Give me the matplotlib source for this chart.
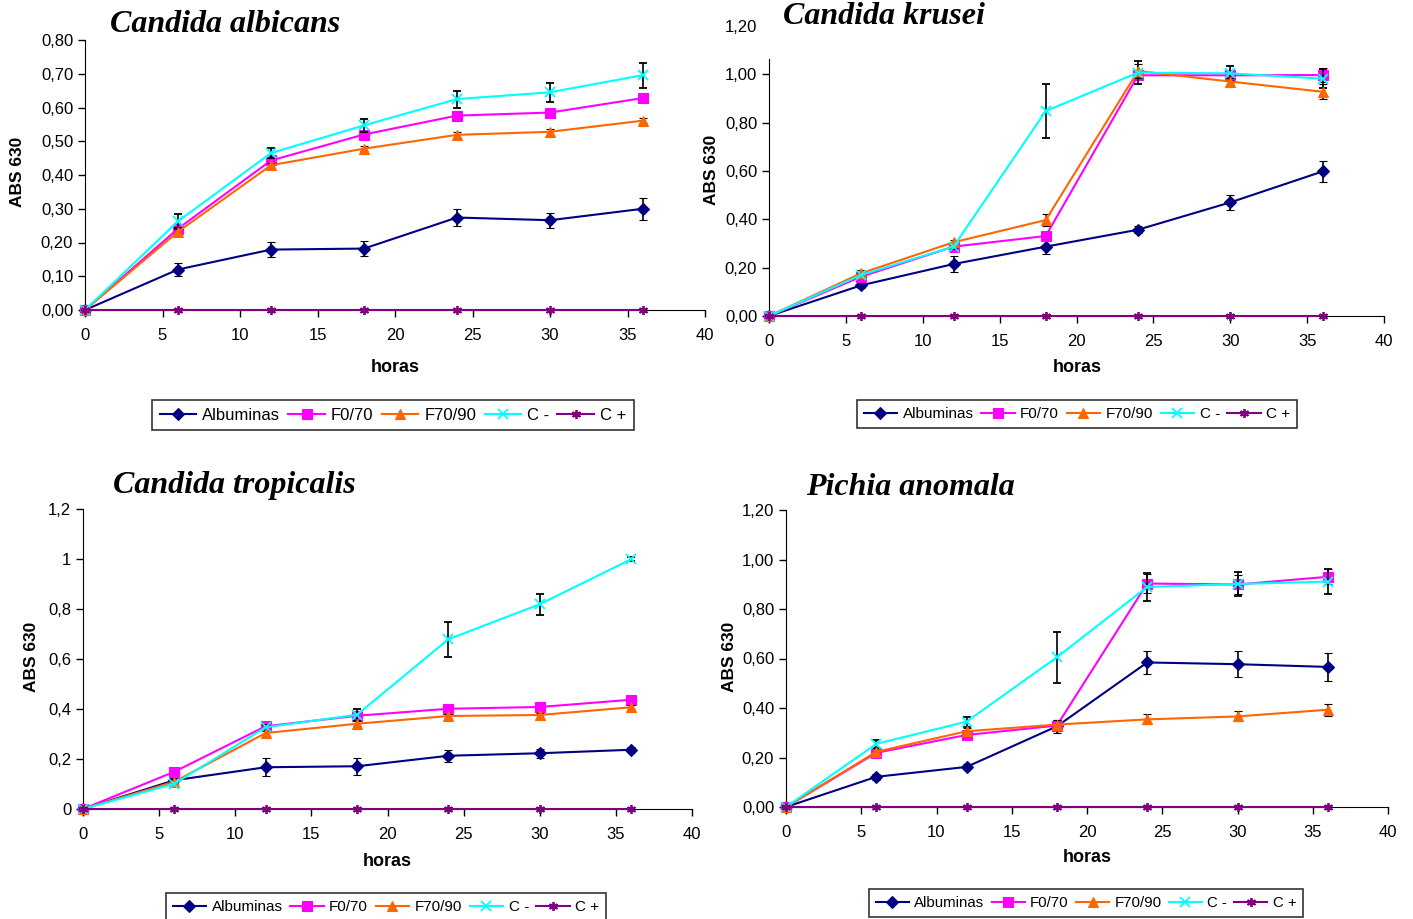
import matplotlib
matplotlib.use("Agg")
import matplotlib.pyplot as plt
from matplotlib.lines import Line2D

plt.rcParams['font.family'] = ['Liberation Sans Narrow', 'Liberation Sans', 'DejaVu Sans']

W, H = 1413, 919

horas = [0, 6, 12, 18, 24, 30, 36]
series_names = ["Albuminas", "F0/70", "F70/90", "C -", "C +"]
colors = ["#000080", "#FF00FF", "#FF6600", "#00FFFF", "#800080"]
markers = ["D", "s", "^", "x", (6, 2, 0)]

# ---------- Candida albicans ----------
alb_vals = [
    [0, 0.120, 0.179, 0.182, 0.274, 0.266, 0.300],
    [0, 0.241, 0.443, 0.520, 0.576, 0.585, 0.628],
    [0, 0.232, 0.429, 0.478, 0.519, 0.528, 0.561],
    [0, 0.263, 0.465, 0.547, 0.625, 0.645, 0.696],
    [0, 0, 0, 0, 0, 0, 0],
]
alb_err = [
    [0, 0.020, 0.023, 0.023, 0.026, 0.022, 0.033],
    [0, 0.010, 0.010, 0.010, 0.015, 0.010, 0.010],
    [0, 0.008, 0.008, 0.008, 0.008, 0.008, 0.008],
    [0, 0.020, 0.015, 0.020, 0.025, 0.028, 0.037],
    [0, 0, 0, 0, 0, 0, 0],
]
alb_yticks = [0, 0.1, 0.2, 0.3, 0.4, 0.5, 0.6, 0.7, 0.8]
alb_ylabels = ["0,00", "0,10", "0,20", "0,30", "0,40", "0,50", "0,60", "0,70", "0,80"]

# ---------- Candida krusei ----------
kru_vals = [
    [0, 0.127, 0.215, 0.287, 0.357, 0.470, 0.598],
    [0, 0.163, 0.287, 0.331, 0.996, 0.996, 0.997],
    [0, 0.177, 0.305, 0.397, 1.014, 0.970, 0.928],
    [0, 0.170, 0.287, 0.848, 1.007, 1.004, 0.982],
    [0, 0, 0, 0, 0, 0, 0],
]
kru_err = [
    [0, 0.010, 0.033, 0.030, 0.015, 0.030, 0.042],
    [0, 0.010, 0.010, 0.010, 0.010, 0.010, 0.030],
    [0, 0.015, 0.010, 0.025, 0.030, 0.015, 0.030],
    [0, 0.010, 0.010, 0.112, 0.048, 0.030, 0.040],
    [0, 0, 0, 0, 0, 0, 0],
]
kru_yticks = [0, 0.2, 0.4, 0.6, 0.8, 1.0, 1.2]
kru_ylabels = ["0,00", "0,20", "0,40", "0,60", "0,80", "1,00", "1,20"]

# ---------- Candida tropicalis ----------
tro_vals = [
    [0, 0.115, 0.167, 0.171, 0.213, 0.223, 0.237],
    [0, 0.149, 0.331, 0.373, 0.401, 0.408, 0.437],
    [0, 0.109, 0.304, 0.341, 0.372, 0.376, 0.407],
    [0, 0.101, 0.327, 0.377, 0.679, 0.819, 0.999],
    [0, 0, 0, 0, 0, 0, 0],
]
tro_err = [
    [0, 0.010, 0.036, 0.035, 0.025, 0.018, 0.010],
    [0, 0.010, 0.010, 0.010, 0.010, 0.010, 0.010],
    [0, 0.010, 0.010, 0.010, 0.010, 0.010, 0.010],
    [0, 0.010, 0.010, 0.023, 0.070, 0.041, 0.008],
    [0, 0, 0, 0, 0, 0, 0],
]
tro_yticks = [0, 0.2, 0.4, 0.6, 0.8, 1.0, 1.2]
tro_ylabels = ["0", "0,2", "0,4", "0,6", "0,8", "1", "1,2"]

# ---------- Pichia anomala ----------
pic_vals = [
    [0, 0.122, 0.162, 0.326, 0.584, 0.577, 0.566],
    [0, 0.219, 0.291, 0.329, 0.903, 0.899, 0.930],
    [0, 0.223, 0.306, 0.333, 0.354, 0.366, 0.393],
    [0, 0.255, 0.345, 0.605, 0.889, 0.901, 0.911],
    [0, 0, 0, 0, 0, 0, 0],
]
pic_err = [
    [0, 0.013, 0.010, 0.027, 0.047, 0.053, 0.056],
    [0, 0.010, 0.010, 0.010, 0.040, 0.040, 0.030],
    [0, 0.020, 0.015, 0.020, 0.020, 0.020, 0.025],
    [0, 0.015, 0.020, 0.103, 0.055, 0.050, 0.050],
    [0, 0, 0, 0, 0, 0, 0],
]
pic_yticks = [0, 0.2, 0.4, 0.6, 0.8, 1.0, 1.2]
pic_ylabels = ["0,00", "0,20", "0,40", "0,60", "0,80", "1,00", "1,20"]

panels = [
    # title, vals, err, yticks, ylabels, ymax, axes px (left, right, top, bottom), spine top,
    # title xy, ylabel xy, xlabel xy, legend center, legend font size
    ("Candida albicans", alb_vals, alb_err, alb_yticks, alb_ylabels, 0.8,
     (85, 705, 40, 310), 0.8, (110, 24), (18, 172), (395, 367), (393, 415), 12),
    ("Candida krusei", kru_vals, kru_err, kru_yticks, kru_ylabels, 1.2,
     (769, 1384, 26, 316), 1.062, (783, 17), (711, 170), (1077, 367), (1077, 414), 11),
    ("Candida tropicalis", tro_vals, tro_err, tro_yticks, tro_ylabels, 1.2,
     (83, 692, 509, 809), 1.2, (113, 485), (32, 657), (387, 861), (386, 907), 11),
    ("Pichia anomala", pic_vals, pic_err, pic_yticks, pic_ylabels, 1.2,
     (786, 1388, 510, 807), 1.2, (806, 488), (729, 657), (1087, 858), (1086, 903), 10.8),
]

fig = plt.figure(figsize=(W / 100, H / 100), dpi=100)
fig.patch.set_facecolor("white")

for (title, vals, errs, yticks, ylabels, ymax, box, spine_top,
     tpos, ylpos, xlpos, legpos, legfs) in panels:
    l, r, t, b = box
    ax = fig.add_axes([l / W, (H - b) / H, (r - l) / W, (b - t) / H])
    ax.set_xlim(0, 40)
    ax.set_ylim(0, ymax)
    for i in range(5):
        ax.errorbar(horas, vals[i], yerr=errs[i] if i < 4 else None,
                    color=colors[i], ecolor="black", elinewidth=1.2,
                    capsize=3.2, capthick=1.2, lw=1.5,
                    marker=markers[i], markersize=6.5,
                    markeredgewidth=1.3 if i >= 3 else 0.8,
                    label=series_names[i], clip_on=False, zorder=3 + i * 0.1)
    ax.spines["top"].set_visible(False)
    ax.spines["right"].set_visible(False)
    ax.spines["left"].set_bounds(0, spine_top)
    ax.set_xticks(range(0, 41, 5))
    ax.set_yticks(yticks)
    ax.set_yticklabels(ylabels)
    ax.tick_params(direction="out", length=5, labelsize=12, width=1)
    ax.tick_params(axis="x", pad=8)
    if spine_top < ymax:
        ax.yaxis.get_major_ticks()[-1].tick1line.set_visible(False)
    fig.text(tpos[0] / W, 1 - tpos[1] / H, title, family="Liberation Serif",
             style="italic", weight="bold", fontsize=23, va="center", ha="left")
    fig.text(ylpos[0] / W, 1 - ylpos[1] / H, "ABS 630", family="Liberation Sans",
             weight="bold", fontsize=12.5, rotation=90, va="center", ha="center")
    fig.text(xlpos[0] / W, 1 - xlpos[1] / H, "horas", weight="bold",
             fontsize=13, va="center", ha="center")
    handles = [Line2D([], [], color=colors[i], marker=markers[i], lw=1.5,
                      markersize=6.5, markeredgewidth=1.3 if i >= 3 else 0.8)
               for i in range(5)]
    leg = fig.legend(handles, series_names, loc="center",
                     bbox_to_anchor=(legpos[0] / W, 1 - legpos[1] / H),
                     ncol=5, fontsize=legfs, frameon=True, fancybox=False,
                     edgecolor="black", handlelength=2.2, handletextpad=0.35,
                     columnspacing=0.5, borderpad=0.45)
    leg.get_frame().set_linewidth(1.2)

fig.savefig("out.png", dpi=100)
